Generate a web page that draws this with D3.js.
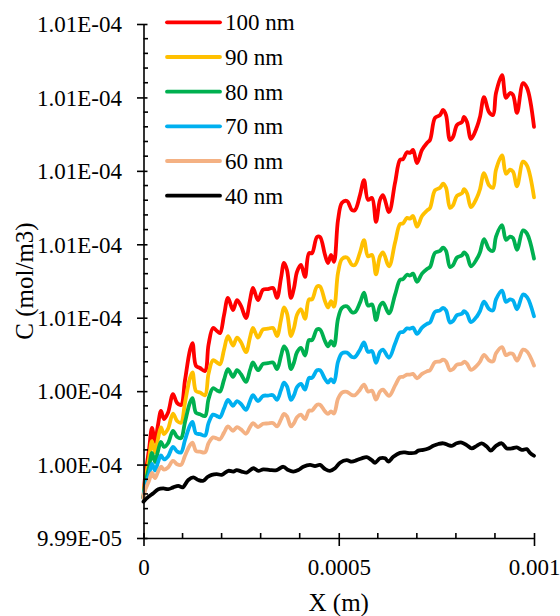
<!DOCTYPE html>
<html>
<head>
<meta charset="utf-8">
<script src="https://cdn.jsdelivr.net/npm/d3@7/dist/d3.min.js"></script>
<style>
  html, body { margin: 0; padding: 0; background: #fff; }
  svg text { font-family: "Liberation Serif", "Times New Roman", Tinos, "DejaVu Serif", serif; fill: #000; }
</style>
</head>
<body>
<svg id="chart" width="560" height="616"></svg>
<script>
// ---- data -------------------------------------------------------------
// positions along X, in micrometres (converted to metres when plotted)
const X_UM = [
  0, 3.8, 14.1, 21.8, 29.5, 37.1, 44.8, 52.5, 62.7, 75.5,
  85.8, 96.0, 106.3, 119.1, 125.5, 134.4, 144.7, 157.5, 166.5, 178.0,
  188.2, 195.9, 206.2, 216.4, 229.2, 239.4, 249.7, 262.5, 272.7, 280.4,
  293.2, 306.0, 318.8, 331.6, 341.9, 352.1, 359.8, 367.5, 377.7, 385.4,
  393.1, 403.3, 413.6, 423.8, 431.5, 444.3, 452.0, 464.8, 472.5, 480.2,
  487.8, 498.1, 508.3, 521.1, 533.9, 541.6, 554.4, 564.7, 574.9, 585.2,
  595.4, 605.6, 613.3, 628.7, 644.1, 656.9, 664.6, 674.8, 682.5, 690.2,
  700.4, 713.2, 726.0, 733.7, 746.5, 759.3, 767.0, 774.7, 784.9, 792.6,
  802.8, 815.6, 820.8, 828.4, 838.7, 854.1, 861.7, 872.0, 884.8, 895.0,
  902.7, 918.1, 928.3, 938.6, 946.2, 956.5, 971.9, 982.1, 1000
];
// concentrations in units of 1e-4 mol/m3
const C_100 = [
  1.00009, 1.00064, 1.00140, 1.00200, 1.00162, 1.00208, 1.00246, 1.00224, 1.00241, 1.00292,
  1.00268, 1.00262, 1.00330, 1.00412, 1.00431, 1.00369, 1.00363, 1.00355, 1.00426, 1.00472,
  1.00464, 1.00458, 1.00507, 1.00554, 1.00521, 1.00548, 1.00532, 1.00499, 1.00548, 1.00581,
  1.00548, 1.00576, 1.00578, 1.00581, 1.00554, 1.00608, 1.00649, 1.00630, 1.00554, 1.00581,
  1.00625, 1.00644, 1.00611, 1.00676, 1.00676, 1.00720, 1.00720, 1.00671, 1.00649, 1.00671,
  1.00652, 1.00766, 1.00813, 1.00818, 1.00793, 1.00793, 1.00834, 1.00875, 1.00821, 1.00826,
  1.00761, 1.00821, 1.00834, 1.00788, 1.00867, 1.00930, 1.00932, 1.00951, 1.00949, 1.00957,
  1.00921, 1.00957, 1.00976, 1.00984, 1.01044, 1.01052, 1.01066, 1.01052, 1.00984, 1.00992,
  1.01025, 1.01033, 1.01047, 1.01033, 1.00987, 1.01020, 1.01047, 1.01101, 1.01060, 1.01052,
  1.01112, 1.01161, 1.01099, 1.01112, 1.01107, 1.01058, 1.01139, 1.01126, 1.01020
];
const C_90 = [
  1.00009, 1.00053, 1.00115, 1.00164, 1.00133, 1.00170, 1.00201, 1.00183, 1.00197, 1.00239,
  1.00219, 1.00214, 1.00269, 1.00336, 1.00351, 1.00300, 1.00296, 1.00289, 1.00347, 1.00384,
  1.00378, 1.00373, 1.00413, 1.00450, 1.00424, 1.00446, 1.00433, 1.00406, 1.00446, 1.00472,
  1.00446, 1.00468, 1.00470, 1.00472, 1.00450, 1.00494, 1.00528, 1.00512, 1.00450, 1.00472,
  1.00508, 1.00523, 1.00497, 1.00550, 1.00550, 1.00585, 1.00585, 1.00545, 1.00528, 1.00545,
  1.00530, 1.00622, 1.00660, 1.00664, 1.00644, 1.00644, 1.00678, 1.00711, 1.00667, 1.00671,
  1.00618, 1.00667, 1.00678, 1.00640, 1.00704, 1.00755, 1.00757, 1.00772, 1.00770, 1.00777,
  1.00748, 1.00777, 1.00792, 1.00799, 1.00847, 1.00854, 1.00865, 1.00854, 1.00799, 1.00806,
  1.00832, 1.00839, 1.00850, 1.00839, 1.00801, 1.00828, 1.00850, 1.00894, 1.00861, 1.00854,
  1.00903, 1.00942, 1.00892, 1.00903, 1.00898, 1.00858, 1.00925, 1.00914, 1.00828
];
const C_80 = [
  1.00009, 1.00044, 1.00093, 1.00132, 1.00107, 1.00137, 1.00162, 1.00148, 1.00158, 1.00192,
  1.00176, 1.00172, 1.00216, 1.00269, 1.00281, 1.00241, 1.00237, 1.00232, 1.00278, 1.00308,
  1.00302, 1.00299, 1.00331, 1.00360, 1.00339, 1.00357, 1.00346, 1.00325, 1.00357, 1.00378,
  1.00357, 1.00374, 1.00376, 1.00378, 1.00360, 1.00396, 1.00422, 1.00410, 1.00360, 1.00378,
  1.00406, 1.00418, 1.00397, 1.00439, 1.00439, 1.00468, 1.00468, 1.00436, 1.00422, 1.00436,
  1.00424, 1.00497, 1.00527, 1.00531, 1.00515, 1.00515, 1.00541, 1.00568, 1.00533, 1.00536,
  1.00494, 1.00533, 1.00541, 1.00512, 1.00562, 1.00603, 1.00605, 1.00617, 1.00615, 1.00620,
  1.00598, 1.00620, 1.00633, 1.00638, 1.00677, 1.00682, 1.00691, 1.00682, 1.00638, 1.00643,
  1.00664, 1.00670, 1.00678, 1.00670, 1.00640, 1.00661, 1.00678, 1.00714, 1.00687, 1.00682,
  1.00721, 1.00752, 1.00712, 1.00721, 1.00717, 1.00685, 1.00738, 1.00729, 1.00661
];
const C_70 = [
  1.00009, 1.00036, 1.00073, 1.00102, 1.00084, 1.00106, 1.00125, 1.00114, 1.00122, 1.00148,
  1.00136, 1.00133, 1.00167, 1.00207, 1.00216, 1.00185, 1.00183, 1.00179, 1.00213, 1.00236,
  1.00232, 1.00229, 1.00253, 1.00276, 1.00260, 1.00273, 1.00265, 1.00249, 1.00273, 1.00289,
  1.00273, 1.00287, 1.00288, 1.00289, 1.00276, 1.00303, 1.00323, 1.00313, 1.00276, 1.00289,
  1.00311, 1.00320, 1.00304, 1.00336, 1.00336, 1.00357, 1.00357, 1.00333, 1.00323, 1.00333,
  1.00324, 1.00380, 1.00403, 1.00405, 1.00393, 1.00393, 1.00413, 1.00433, 1.00407, 1.00409,
  1.00377, 1.00407, 1.00413, 1.00391, 1.00429, 1.00460, 1.00461, 1.00471, 1.00470, 1.00473,
  1.00456, 1.00473, 1.00483, 1.00487, 1.00516, 1.00520, 1.00527, 1.00520, 1.00487, 1.00491,
  1.00507, 1.00511, 1.00518, 1.00511, 1.00488, 1.00504, 1.00518, 1.00544, 1.00524, 1.00520,
  1.00550, 1.00574, 1.00543, 1.00550, 1.00547, 1.00523, 1.00563, 1.00556, 1.00504
];
const C_60 = [
  1.00009, 1.00029, 1.00056, 1.00077, 1.00063, 1.00080, 1.00094, 1.00086, 1.00092, 1.00110,
  1.00101, 1.00099, 1.00124, 1.00153, 1.00160, 1.00137, 1.00135, 1.00133, 1.00158, 1.00174,
  1.00171, 1.00169, 1.00187, 1.00204, 1.00192, 1.00202, 1.00196, 1.00184, 1.00202, 1.00213,
  1.00202, 1.00211, 1.00212, 1.00213, 1.00204, 1.00223, 1.00238, 1.00231, 1.00204, 1.00213,
  1.00229, 1.00236, 1.00224, 1.00247, 1.00247, 1.00263, 1.00263, 1.00245, 1.00238, 1.00245,
  1.00239, 1.00279, 1.00296, 1.00298, 1.00289, 1.00289, 1.00304, 1.00318, 1.00299, 1.00301,
  1.00277, 1.00299, 1.00304, 1.00287, 1.00315, 1.00338, 1.00339, 1.00345, 1.00345, 1.00347,
  1.00335, 1.00347, 1.00354, 1.00357, 1.00379, 1.00381, 1.00386, 1.00381, 1.00357, 1.00360,
  1.00372, 1.00375, 1.00380, 1.00375, 1.00358, 1.00370, 1.00380, 1.00399, 1.00384, 1.00381,
  1.00403, 1.00420, 1.00398, 1.00403, 1.00401, 1.00383, 1.00413, 1.00408, 1.00370
];
// 40 nm curve was sampled at its own positions
const X_UM_40 = [
  0, 12.3, 25.1, 37.9, 50.7, 63.5, 76.3, 89.1, 100.4, 114.7,
  127.5, 140.3, 153.1, 163.9, 174.7, 187.5, 200.3, 217.2, 230.0, 238.7,
  251.5, 264.3, 281.2, 294.0, 306.8, 324.0, 341.1, 358.0, 370.8, 383.6,
  396.4, 409.2, 426.4, 439.2, 452.0, 464.8, 477.6, 490.4, 503.2, 520.4,
  533.2, 546.0, 558.8, 571.6, 584.4, 592.9, 605.7, 618.5, 626.9, 639.7,
  656.9, 669.7, 682.5, 695.3, 703.8, 716.6, 729.4, 742.2, 755.0, 767.8,
  780.6, 789.3, 802.1, 814.9, 827.7, 840.5, 853.3, 866.1, 878.9, 889.2,
  902.7, 917.3, 930.2, 943.0, 955.8, 968.6, 981.4, 989.8, 1000
];
const C_40 = [
  0.99999, 1.00012, 1.00022, 1.00033, 1.00035, 1.00033, 1.00038, 1.00042, 1.00038, 1.00058,
  1.00065, 1.00058, 1.00056, 1.00066, 1.00072, 1.00074, 1.00072, 1.00083, 1.00081, 1.00085,
  1.00081, 1.00078, 1.00090, 1.00083, 1.00087, 1.00085, 1.00085, 1.00094, 1.00085, 1.00081,
  1.00085, 1.00094, 1.00099, 1.00096, 1.00099, 1.00088, 1.00083, 1.00090, 1.00105, 1.00112,
  1.00108, 1.00112, 1.00117, 1.00120, 1.00112, 1.00105, 1.00117, 1.00117, 1.00108, 1.00121,
  1.00132, 1.00133, 1.00131, 1.00132, 1.00138, 1.00140, 1.00144, 1.00151, 1.00156, 1.00158,
  1.00153, 1.00151, 1.00158, 1.00160, 1.00153, 1.00144, 1.00151, 1.00158, 1.00149, 1.00138,
  1.00151, 1.00158, 1.00144, 1.00144, 1.00147, 1.00140, 1.00142, 1.00132, 1.00124
];
const SERIES_NAMES = ["100 nm", "90 nm", "80 nm", "70 nm", "60 nm", "40 nm"];
const X_TICKS = [0, 0.0005, 0.001];
const X_TICK_LABELS = ["0", "0.0005", "0.001"];
const Y_TICKS = [9.99e-5, 1.001e-4, 1.003e-4, 1.005e-4, 1.007e-4, 1.009e-4, 1.011e-4, 1.013e-4];
const Y_TICK_LABELS = ["9.99E-05", "1.00E-04", "1.00E-04", "1.01E-04", "1.01E-04", "1.01E-04", "1.01E-04", "1.01E-04"];
const X_TITLE = "X (m)";
const Y_TITLE = "C (mol/m3)";

// ---- build ------------------------------------------------------------
(function () {
  const FONT = "'Liberation Serif', 'Times New Roman', Tinos, 'DejaVu Serif', serif";
  const COLORS = ["#FF0000", "#FFC000", "#00B050", "#00B0F0", "#F4B183", "#000000"];
  const toPts = (xs, cs) => xs.map((v, i) => ({ x: v * 1e-6, c: cs[i] * 1e-4 }));
  const series = [
    { name: SERIES_NAMES[0], color: COLORS[0], pts: toPts(X_UM, C_100) },
    { name: SERIES_NAMES[1], color: COLORS[1], pts: toPts(X_UM, C_90) },
    { name: SERIES_NAMES[2], color: COLORS[2], pts: toPts(X_UM, C_80) },
    { name: SERIES_NAMES[3], color: COLORS[3], pts: toPts(X_UM, C_70) },
    { name: SERIES_NAMES[4], color: COLORS[4], pts: toPts(X_UM, C_60) },
    { name: SERIES_NAMES[5], color: COLORS[5], pts: toPts(X_UM_40, C_40) }
  ];

  const svg = d3.select("#chart").attr("font-family", FONT);
  const pL = 143.5, pR = 534, pT = 24, pB = 538;
  const x = d3.scaleLinear().domain([0, 0.001]).range([pL, pR]);
  const y = d3.scaleLinear().domain([Y_TICKS[0], Y_TICKS[Y_TICKS.length - 1]]).range([pB, pT]);

  // series
  const line = d3.line().x(d => x(d.x)).y(d => y(d.c)).curve(d3.curveCatmullRom.alpha(0.5));
  svg.append("g").selectAll("path").data(series).join("path")
    .attr("d", d => line(d.pts))
    .attr("fill", "none")
    .attr("stroke", d => d.color)
    .attr("stroke-width", 3.8)
    .attr("stroke-linejoin", "round")
    .attr("stroke-linecap", "round");

  // y axis
  const yAxis = d3.axisLeft(y).tickValues(Y_TICKS).tickFormat((d, i) => Y_TICK_LABELS[i]).tickSizeOuter(0);
  const gy = svg.append("g").attr("transform", `translate(${pL},0)`).call(yAxis).attr("font-family", FONT);
  gy.select(".domain").attr("stroke", "#000").attr("stroke-width", 1.6);
  gy.selectAll(".tick line").attr("x1", 4).attr("x2", -6.5).attr("stroke", "#000").attr("stroke-width", 1.6);
  gy.selectAll(".tick text").attr("x", -21.5).attr("dy", "0.34em")
    .style("font-size", "23px").style("font-family", FONT);
  const yStep = (Y_TICKS[1] - Y_TICKS[0]) / 5;
  const yMinor = d3.range(0, (Y_TICKS.length - 1) * 5 + 1)
    .filter(i => i % 5 !== 0).map(i => Y_TICKS[0] + i * yStep);
  svg.append("g").selectAll("line").data(yMinor).join("line")
    .attr("x1", pL).attr("x2", pL + 4.5)
    .attr("y1", d => y(d)).attr("y2", d => y(d))
    .attr("stroke", "#000").attr("stroke-width", 1.6);

  // x axis
  const xAxis = d3.axisBottom(x).tickValues(X_TICKS).tickFormat((d, i) => X_TICK_LABELS[i]).tickSizeOuter(0);
  const gx = svg.append("g").attr("transform", `translate(0,${pB})`).call(xAxis).attr("font-family", FONT);
  gx.select(".domain").attr("stroke", "#000").attr("stroke-width", 1.6);
  gx.selectAll(".tick line").attr("y1", -5).attr("y2", 8).attr("stroke", "#000").attr("stroke-width", 1.6);
  gx.selectAll(".tick text").attr("y", 37).attr("dy", 0)
    .style("font-size", "23px").style("font-family", FONT);
  const xMinor = d3.range(0, 11).filter(i => i % 5 !== 0).map(i => i * 0.0001);
  svg.append("g").selectAll("line").data(xMinor).join("line")
    .attr("x1", d => x(d)).attr("x2", d => x(d))
    .attr("y1", pB - 5).attr("y2", pB)
    .attr("stroke", "#000").attr("stroke-width", 1.6);

  // axis titles
  svg.append("text").attr("x", (pL + pR) / 2).attr("y", 611)
    .attr("text-anchor", "middle").style("font-size", "25px").style("font-family", FONT).text(X_TITLE);
  svg.append("text").attr("transform", "translate(33,281) rotate(-90)")
    .attr("text-anchor", "middle").style("font-size", "25px").style("font-family", FONT).text(Y_TITLE);

  // legend
  const legendY = d3.scalePoint().domain(SERIES_NAMES).range([22.3, 195.7]);
  const items = svg.append("g").selectAll("g").data(series).join("g")
    .attr("transform", d => `translate(167,${legendY(d.name)})`);
  items.append("line").attr("x1", 0).attr("x2", 53).attr("y1", 0).attr("y2", 0)
    .attr("stroke", d => d.color).attr("stroke-width", 3.8).attr("stroke-linecap", "round");
  items.append("text").attr("x", 58).attr("dy", "0.35em")
    .style("font-size", "23px").style("font-family", FONT).text(d => d.name);
})();
</script>
</body>
</html>
